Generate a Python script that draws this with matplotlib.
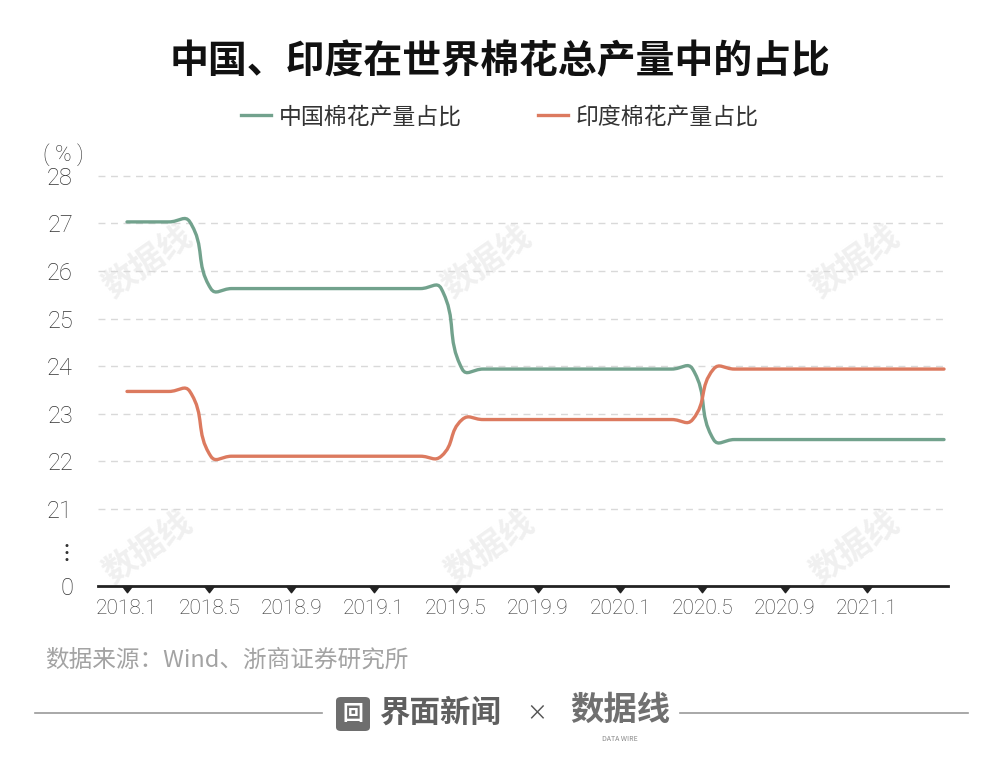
import numpy as np
import matplotlib
matplotlib.use('Agg')
import matplotlib.pyplot as plt
from matplotlib.path import Path
from matplotlib.patches import PathPatch, FancyBboxPatch
from matplotlib.lines import Line2D

plt.rcParams['font.family'] = ['Noto Sans CJK SC', 'DejaVu Sans']

# 月度数据 2018.1 ~ 2021.4
china = [27.03, 27.03, 27.03, 27.03,
         25.63, 25.63, 25.63, 25.63, 25.63, 25.63, 25.63, 25.63, 25.63, 25.63, 25.63, 25.63,
         23.94, 23.94, 23.94, 23.94, 23.94, 23.94, 23.94, 23.94, 23.94, 23.94, 23.94, 23.94,
         22.46, 22.46, 22.46, 22.46, 22.46, 22.46, 22.46, 22.46, 22.46, 22.46, 22.46, 22.46]
india = [23.47, 23.47, 23.47, 23.47,
         22.11, 22.11, 22.11, 22.11, 22.11, 22.11, 22.11, 22.11, 22.11, 22.11, 22.11, 22.11,
         22.88, 22.88, 22.88, 22.88, 22.88, 22.88, 22.88, 22.88, 22.88, 22.88, 22.88, 22.88,
         23.94, 23.94, 23.94, 23.94, 23.94, 23.94, 23.94, 23.94, 23.94, 23.94, 23.94, 23.94]
series_names = ['中国棉花产量占比', '印度棉花产量占比']
colors = ['#72a28d', '#dc7a5f']

tick_labels = ['2018.1', '2018.5', '2018.9', '2019.1', '2019.5',
               '2019.9', '2020.1', '2020.5', '2020.9', '2021.1']
y_ticks = [21, 22, 23, 24, 25, 26, 27, 28]

num_font = ['Roboto', 'DejaVu Sans']
dots_font = ['STIXGeneral', 'DejaVu Sans']


def smooth_path(ax, xs, ys, smooth=0.5):
    # 类似 echarts 的平滑折线（在像素坐标里算控制点）
    pts = ax.transData.transform(np.column_stack([xs, ys]))
    n = len(pts)
    verts = [pts[0]]
    codes = [Path.MOVETO]
    cp0 = pts[0]
    for i in range(1, n):
        prev, cur = pts[i - 1], pts[i]
        if i == n - 1:
            cp1 = cur
            nxt_cp0 = cur
        else:
            nxt = pts[i + 1]
            v = (nxt - prev) * smooth
            d0 = np.hypot(*(cur - prev))
            d1 = np.hypot(*(nxt - cur))
            s = d0 + d1
            cp1 = cur - v * d0 / s
            nxt_cp0 = cur + v * d1 / s
        verts += [cp0, cp1, cur]
        codes += [Path.CURVE4] * 3
        cp0 = nxt_cp0
    verts = ax.transData.inverted().transform(np.array(verts))
    return Path(verts, codes)


fig = plt.figure(figsize=(10, 7.63), dpi=100)
ax = fig.add_axes([0.098, 1 - 586 / 763, 0.85, (586 - 175.7) / 763])
ax.set_facecolor('none')

x = np.arange(len(china))
y_zero = 19.385
y_dots = 20.125
ax.set_xlim(-1.384, 39.19)
ax.set_ylim(y_zero, 28)

for v in y_ticks:
    ax.axhline(v, color='#d9d9d9', lw=1, ls=(0, (5, 4)), zorder=0, clip_on=False)

for vals, c in zip([china, india], colors):
    p = smooth_path(ax, x, vals)
    ax.add_patch(PathPatch(p, fill=False, edgecolor=c, lw=2.4,
                           capstyle='round', joinstyle='round', zorder=3, clip_on=False))

for s in ['top', 'right', 'left']:
    ax.spines[s].set_visible(False)
ax.spines['bottom'].set_linewidth(2)
ax.spines['bottom'].set_color('#222222')

# 轴标签在原图中是均匀排开的
tick_pos = np.arange(len(tick_labels)) * 3.924
ax.set_xticks(tick_pos)
ax.set_xticklabels(tick_labels, family=num_font, fontsize=15, color='#333333', fontweight='light')
ax.tick_params(axis='x', length=0, pad=9)
tri = Path([(-1, 0), (1, 0), (0, -1.3), (-1, 0)],
           [Path.MOVETO, Path.LINETO, Path.LINETO, Path.CLOSEPOLY])
ax.plot(tick_pos, np.zeros(len(tick_pos)), ls='none', marker=tri, ms=9, color='#222222',
        transform=ax.get_xaxis_transform(), clip_on=False, zorder=5)

ax.set_yticks([y_zero, y_dots] + y_ticks)
ylabels = ax.set_yticklabels(['0', '⋮'] + [str(v) for v in y_ticks], family=num_font,
                             fontsize=17, color='#333333', fontweight='light')
ylabels[1].set_family(dots_font)
ylabels[1].set_fontweight('normal')
ax.tick_params(axis='y', length=0, pad=18)

fig.text(0.043, 1 - 155 / 763, '( % )', fontsize=16, color='#333333', va='center',
         family=num_font, fontweight='light')

fig.text(0.5, 1 - 62 / 763, '中国、印度在世界棉花总产量中的占比', ha='center', va='center',
         fontsize=28, fontweight='bold', color='#111111')

handles = [Line2D([], [], color=c, lw=2.4) for c in colors]
fig.legend(handles, series_names, loc='center', bbox_to_anchor=(0.5, 1 - 117 / 763), ncol=2,
           frameon=False, handlelength=1.3, handletextpad=0.35,
           columnspacing=3.3, labelcolor='#333333', prop={'size': 16.5, 'weight': 'light'})

# 水印
for wx, wy in [(148, 262), (487, 262), (855, 262), (148, 548), (490, 548), (855, 548)]:
    fig.text(wx / 1000, 1 - wy / 763, '数据线', rotation=35, ha='center', va='center',
             fontsize=24, fontweight='bold', color='#f0f0f0', zorder=-1)

fig.text(0.045, 1 - 660 / 763, '数据来源：Wind、浙商证券研究所', fontsize=17, color='#a3a3a3',
         va='center', fontweight='light')

# 底部 logo
fy = 1 - 713 / 763
fig.add_artist(Line2D([0.035, 0.322], [fy, fy], transform=fig.transFigure, color='#9a9a9a', lw=1.2))
fig.add_artist(Line2D([0.68, 0.968], [fy, fy], transform=fig.transFigure, color='#9a9a9a', lw=1.2))
fig.add_artist(FancyBboxPatch((0.336, 1 - 731 / 763), 0.034, 34 / 763,
                              boxstyle='round,pad=0,rounding_size=0.005',
                              transform=fig.transFigure, facecolor='#6e6e6e', edgecolor='none'))
fig.text(0.353, fy, '回', ha='center', va='center', fontsize=15, color='white', fontweight='bold')
fig.text(0.379, fy, '界面新闻', ha='left', va='center', fontsize=22, fontweight='bold', color='#5f5f5f')
fig.text(0.537, fy, '×', ha='center', va='center', fontsize=15, color='#555555')
fig.text(0.62, fy + 0.004, '数据线', ha='center', va='center', fontsize=24, fontweight='bold',
         color='#707070')
fig.text(0.62, 1 - 739 / 763, 'DATA WIRE', ha='center', va='center', fontsize=5, color='#888888')

fig.savefig('out.png', dpi=100, facecolor='white')
